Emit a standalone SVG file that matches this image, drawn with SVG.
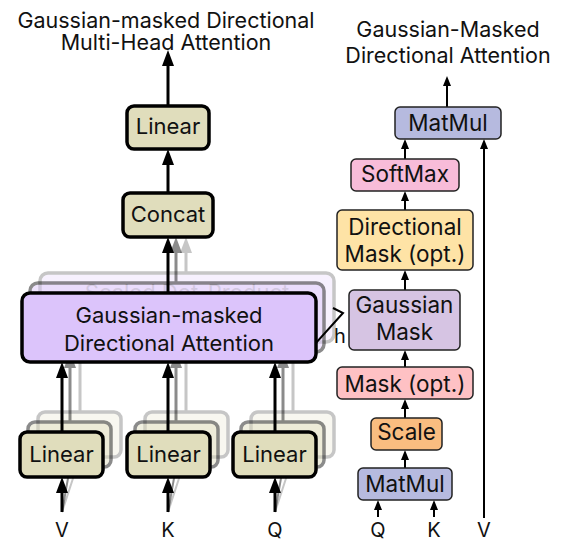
<svg xmlns="http://www.w3.org/2000/svg" width="567" height="544" viewBox="0 0 567 544">
<style>
text{font-family:Inter,"Liberation Sans",sans-serif;fill:#111;text-anchor:middle}
.t{font-size:21.5px}
.io{font-size:20px}
.lb{font-size:22px}
.rb{font-size:22.5px}
.lbox{fill:#e0ddbc;stroke:#000;stroke-width:3.5}
.att{fill:#dcc4fb;stroke:#000;stroke-width:3.5}
.rbox{stroke:#222;stroke-width:1.5}
.la{stroke:#000;stroke-width:3;fill:none;marker-end:url(#ahL)}
.ra{stroke:#000;stroke-width:2;fill:none;marker-end:url(#ahR)}
.ln{stroke:#000;stroke-width:2;fill:none}
</style>
<defs>
<marker id="ahL" markerUnits="userSpaceOnUse" markerWidth="16" markerHeight="12" refX="4" refY="6" orient="auto"><path d="M0,0L16,6L0,12z" fill="#000"/></marker>
<marker id="ahR" markerUnits="userSpaceOnUse" markerWidth="10" markerHeight="8" refX="3" refY="4" orient="auto"><path d="M0,0L10,4L0,8z" fill="#000"/></marker>
</defs>
<rect width="567" height="544" fill="#fff"/>

<g id="titles">
<text class="t" x="166" y="28">Gaussian-masked Directional</text>
<text class="t" x="166" y="50">Multi-Head Attention</text>
<text class="t" x="448" y="37">Gaussian-Masked</text>
<text class="t" x="448" y="63">Directional Attention</text>
</g>

<g id="stack-layer-3" opacity="0.22">
<g class="nodes">
<rect class="att" x="40" y="273" width="294" height="69" rx="8"/>
<text class="lb" x="187" y="300">Scaled Dot-Product</text>
<rect class="lbox" x="38" y="412" width="83" height="45" rx="7"/>
<rect class="lbox" x="145" y="412" width="83" height="45" rx="7"/>
<rect class="lbox" x="251" y="412" width="83" height="45" rx="7"/>
</g>
<g class="connectors">
<path class="la" d="M186,273V249"/>
<path class="la" d="M80,412V354"/>
<path class="la" d="M186,412V354"/>
<path class="la" d="M293,412V354"/>
<path class="ln" stroke-width="2.5" d="M62,512L80,457M168,512L186,457M275,512L293,457"/>
</g>
</g>

<g id="stack-layer-2" opacity="0.45">
<g class="nodes">
<rect class="att" x="30" y="283" width="294" height="69" rx="8"/>
<rect class="lbox" x="28" y="422" width="83" height="45" rx="7"/>
<text class="lb" x="69.5" y="452">Linear</text>
<rect class="lbox" x="135" y="422" width="83" height="45" rx="7"/>
<text class="lb" x="176.5" y="452">Linear</text>
<rect class="lbox" x="241" y="422" width="83" height="45" rx="7"/>
<text class="lb" x="282.5" y="452">Linear</text>
</g>
<g class="connectors">
<path class="la" d="M176,283V249"/>
<path class="la" d="M70,422V364"/>
<path class="la" d="M176,422V364"/>
<path class="la" d="M283,422V364"/>
<path class="ln" stroke-width="2.5" d="M62,512L70,467M168,512L176,467M275,512L283,467"/>
</g>
</g>

<g id="connectors">
<path class="la" d="M168,106V62"/>
<path class="la" d="M168,193V161"/>
<path class="la" d="M168,293V249"/>
<path class="la" d="M62,432V374"/>
<path class="la" d="M168,432V374"/>
<path class="la" d="M275,432V374"/>
<path class="la" d="M62,512V489"/>
<path class="la" d="M168,512V489"/>
<path class="la" d="M275,512V489"/>
<path class="ln" stroke-width="2.5" d="M302,340L316,343L343,313L333,308"/>
<path class="ra" d="M447,107V83"/>
<path class="ra" d="M405,159V146"/>
<path class="ra" d="M405,210V198"/>
<path class="ra" d="M405,290V277"/>
<path class="ra" d="M405,367V357"/>
<path class="ra" d="M405,418V406"/>
<path class="ra" d="M405,468V457"/>
<path class="ra" d="M378,517V507"/>
<path class="ra" d="M434,517V507"/>
<path class="ra" d="M484,518V146"/>
</g>

<g id="linear-top"><rect class="lbox" x="127" y="106" width="82" height="43" rx="7"/><text class="lb" x="168" y="134">Linear</text></g>
<g id="concat"><rect class="lbox" x="123" y="193" width="90" height="44" rx="7"/><text class="lb" x="168" y="222">Concat</text></g>
<g id="attention"><rect class="att" x="22" y="293" width="294" height="69" rx="8"/>
<text class="lb" x="169" y="323">Gaussian-masked</text>
<text class="lb" x="169" y="351">Directional Attention</text></g>
<g id="linear-v"><rect class="lbox" x="20" y="432" width="83" height="45" rx="7"/><text class="lb" x="61.5" y="462">Linear</text></g>
<g id="linear-k"><rect class="lbox" x="127" y="432" width="83" height="45" rx="7"/><text class="lb" x="168.5" y="462">Linear</text></g>
<g id="linear-q"><rect class="lbox" x="233" y="432" width="83" height="45" rx="7"/><text class="lb" x="274.5" y="462">Linear</text></g>
<g id="h-label"><text class="io" x="340" y="343">h</text></g>
<g id="inputs-left">
<text class="io" x="62" y="537">V</text>
<text class="io" x="168" y="537">K</text>
<text class="io" x="275" y="537">Q</text>
</g>

<g id="matmul-top"><rect class="rbox" fill="#b6badf" x="395" y="107" width="106" height="32" rx="5"/><text class="rb" x="448" y="131">MatMul</text></g>
<g id="softmax"><rect class="rbox" fill="#f8bcd9" x="351" y="159" width="108" height="32" rx="5"/><text class="rb" x="405" y="182">SoftMax</text></g>
<g id="directional-mask"><rect class="rbox" fill="#fee3a6" x="337" y="210" width="136" height="60" rx="5"/><text class="rb" x="405" y="235">Directional</text><text class="rb" x="405" y="262">Mask (opt.)</text></g>
<g id="gaussian-mask"><rect class="rbox" fill="#d6c4e3" x="349" y="290" width="111" height="60" rx="5"/><text class="rb" x="404.5" y="313">Gaussian</text><text class="rb" x="404.5" y="340">Mask</text></g>
<g id="mask-opt"><rect class="rbox" fill="#fec1c4" x="337" y="367" width="136" height="32" rx="5"/><text class="rb" x="405" y="392">Mask (opt.)</text></g>
<g id="scale"><rect class="rbox" fill="#f9bd80" x="371" y="418" width="71" height="32" rx="5"/><text class="rb" x="406.5" y="440">Scale</text></g>
<g id="matmul-bottom"><rect class="rbox" fill="#b6badf" x="358" y="468" width="94" height="32" rx="5"/><text class="rb" x="405" y="492">MatMul</text></g>
<g id="inputs-right">
<text class="io" x="378" y="537">Q</text>
<text class="io" x="434" y="537">K</text>
<text class="io" x="484" y="537">V</text>
</g>
</svg>
